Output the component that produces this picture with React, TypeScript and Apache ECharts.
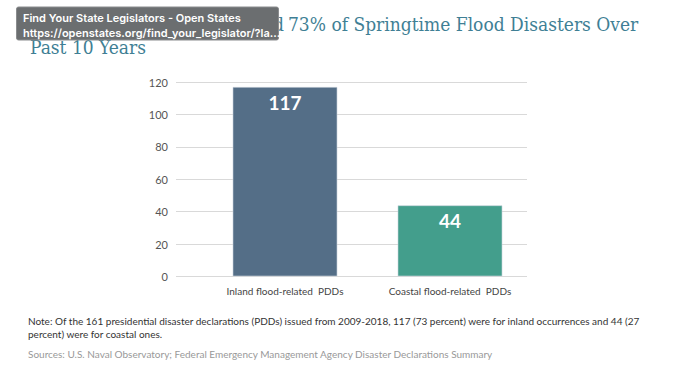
import React, { useEffect, useRef } from "react";
import * as echarts from "echarts";

const categories = ["Inland flood-related  PDDs", "Coastal flood-related  PDDs"];
const values = [117, 44];
const barColors = ["#546e87", "#439e8c"];
const yTicks = { min: 0, max: 120, interval: 20 };

const titleHidden = "Inland Flooding Caused";
const titleLine1 = "73% of Springtime Flood Disasters Over";
const titleLine2 = "Past 10 Years";
const tooltipLines = [
  "Find Your State Legislators - Open States",
  "https://openstates.org/find_your_legislator/?la...",
];
const noteLines = [
  "Note: Of the 161 presidential disaster declarations (PDDs) issued from 2009-2018, 117 (73 percent) were for inland occurrences and 44 (27",
  "percent) were for coastal ones.",
];
const sourceText =
  "Sources: U.S. Naval Observatory; Federal Emergency Management Agency Disaster Declarations Summary";

export default function App() {
  const ref = useRef<HTMLDivElement>(null);
  useEffect(() => {
    document.body.style.margin = "0";
    const chart = echarts.init(ref.current!, null, { renderer: "svg" });
    const titleFont = "'DejaVu Serif Condensed', 'DejaVu Serif', serif";
    const bodyFont = "Lato, 'Open Sans', sans-serif";
    chart.setOption({
      animation: false,
      backgroundColor: "#ffffff",
      grid: [
        { left: 176, right: 146, top: 82, bottom: 91.5, containLabel: false },
        { left: 202.5, width: 330, top: 82, bottom: 91.5, containLabel: false },
      ],
      xAxis: [
        { gridIndex: 0, type: "value", show: false, min: 0, max: 1 },
        {
          gridIndex: 1,
          type: "category",
          data: categories,
          axisLine: { show: false },
          axisTick: { show: false },
          axisLabel: { interval: 0, color: "#444", fontSize: 10, fontFamily: bodyFont, margin: 9 },
        },
      ],
      yAxis: [
        {
          gridIndex: 0,
          type: "value",
          min: yTicks.min,
          max: yTicks.max,
          interval: yTicks.interval,
          axisLine: { show: false },
          axisTick: { show: false },
          axisLabel: { color: "#555", fontSize: 11, fontFamily: bodyFont, margin: 8 },
          splitLine: { lineStyle: { color: "#d9d9d9", width: 1 } },
        },
        {
          gridIndex: 1,
          type: "value",
          min: yTicks.min,
          max: yTicks.max,
          interval: yTicks.interval,
          show: false,
          splitLine: { show: false },
        },
      ],
      series: [
        {
          type: "bar",
          xAxisIndex: 1,
          yAxisIndex: 1,
          barWidth: 105,
          data: values.map((v, i) => ({
            value: v,
            itemStyle: { color: barColors[i], borderColor: "rgba(200,210,220,0.6)", borderWidth: 1 },
          })),
          label: {
            show: true,
            position: "insideTop",
            distance: 6,
            color: "#ffffff",
            fontSize: 19,
            fontWeight: "bold",
            fontFamily: bodyFont,
          },
        },
      ],
      graphic: [
        {
          type: "text",
          x: 284,
          y: 14,
          style: { text: titleHidden, fill: "#3f7f95", font: `19px ${titleFont}`, textAlign: "right" },
        },
        {
          type: "text",
          x: 288,
          y: 14,
          style: { text: titleLine1, fill: "#3f7f95", font: `19px ${titleFont}` },
        },
        {
          type: "text",
          x: 30,
          y: 37,
          style: { text: titleLine2, fill: "#3f7f95", font: `19px ${titleFont}` },
        },
        {
          type: "rect",
          shape: { x: 16.5, y: 7, width: 262, height: 33, r: 2 },
          style: { fill: "#6b6e70", stroke: "#8a8c8e", lineWidth: 1 },
        },
        {
          type: "text",
          x: 23,
          y: 10.5,
          style: {
            text: tooltipLines.join("\n"),
            fill: "#ffffff",
            font: `600 11px Inter, 'Open Sans', sans-serif`,
            lineHeight: 15,
          },
        },
        {
          type: "text",
          x: 28,
          y: 314,
          style: { text: noteLines.join("\n"), fill: "#333333", font: `10px ${bodyFont}`, lineHeight: 13.5 },
        },
        {
          type: "text",
          x: 28,
          y: 349,
          style: { text: sourceText, fill: "#999999", font: `10px ${bodyFont}` },
        },
      ],
    });
    return () => chart.dispose();
  }, []);
  return <div ref={ref} style={{ width: 673, height: 368 }} />;
}
